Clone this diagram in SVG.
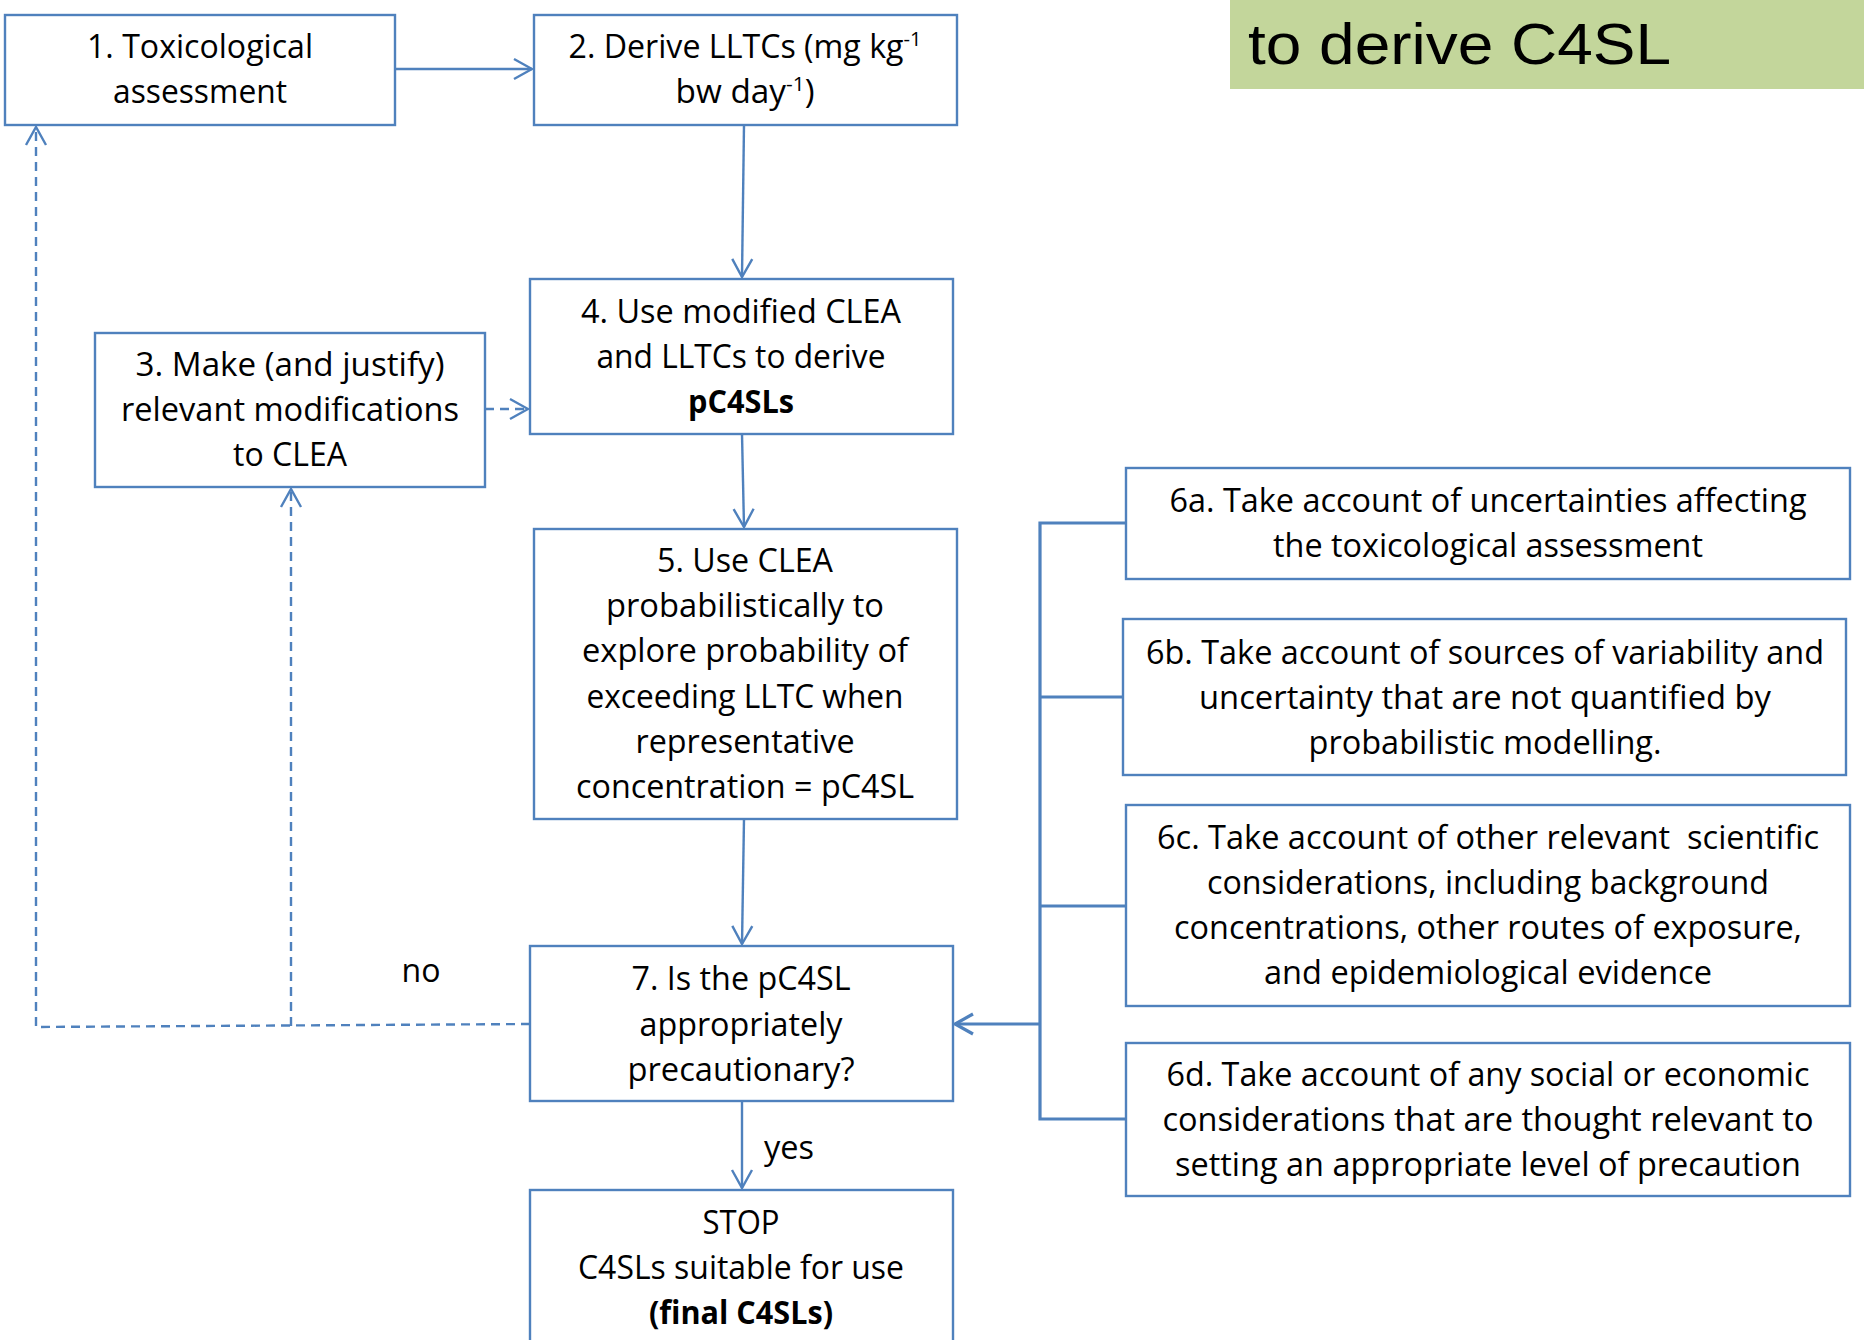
<svg xmlns="http://www.w3.org/2000/svg" width="1864" height="1340" viewBox="0 0 1864 1340">
<style>
.box{fill:#fff;stroke:#4F81BD;stroke-width:2.4}
.t{font-family:"Open Sans","Liberation Sans",sans-serif;font-size:32px;fill:#000;text-anchor:middle}
.b{font-weight:bold}
.c{fill:none;stroke:#4F81BD;stroke-width:2.4}
.d{fill:none;stroke:#4F81BD;stroke-width:2.4;stroke-dasharray:9,6}
.k{fill:none;stroke:#4F81BD;stroke-width:3.2}
.title{font-family:"Liberation Sans",Arial,sans-serif;font-size:58px;fill:#000}
</style>
<defs>
<marker id="ah" markerUnits="userSpaceOnUse" viewBox="0 0 20 24" markerWidth="20" markerHeight="24" refX="19" refY="12" orient="auto">
<path d="M1,2 L19,12 L1,22" fill="none" stroke="#4F81BD" stroke-width="2.4"/>
</marker>
<marker id="ahk" markerUnits="userSpaceOnUse" viewBox="0 0 20 24" markerWidth="20" markerHeight="24" refX="19" refY="12" orient="auto">
<path d="M1,2 L19,12 L1,22" fill="none" stroke="#4F81BD" stroke-width="3.2"/>
</marker>
</defs>
<rect width="1864" height="1340" fill="#fff"/>
<g id="title">
<rect x="1230" y="0" width="634" height="89" fill="#C3D69B"/>
<text class="title" x="1248" y="64" textLength="423" lengthAdjust="spacingAndGlyphs">to derive C4SL</text>
</g>
<g id="connectors">
<path class="c" d="M395,69 L532,69" marker-end="url(#ah)"/>
<path class="c" d="M744,125 L742,277" marker-end="url(#ah)"/>
<path class="c" d="M742,434 L744,527" marker-end="url(#ah)"/>
<path class="c" d="M744,819 L742,944" marker-end="url(#ah)"/>
<path class="c" d="M742,1101 L742,1188" marker-end="url(#ah)"/>
<path class="d" d="M485,409 L528,409" marker-end="url(#ah)"/>
<path class="d" d="M530,1024 L36,1027 L36,127" marker-end="url(#ah)"/>
<path class="d" d="M291,1026 L291,489" marker-end="url(#ah)"/>
<path class="k" d="M1126,523 L1040,523 L1040,1119 L1126,1119 M1040,697 L1123,697 M1040,906 L1126,906"/>
<path class="k" d="M1040,1024 L955,1024" marker-end="url(#ahk)"/>
<text class="t" x="421" y="982" textLength="39" lengthAdjust="spacingAndGlyphs">no</text>
<text class="t" x="789" y="1159" textLength="50" lengthAdjust="spacingAndGlyphs">yes</text>
</g>
<g id="n1">
<rect class="box" x="5" y="15" width="390" height="110"/>
<text class="t" x="200" y="58" textLength="226" lengthAdjust="spacingAndGlyphs">1. Toxicological</text>
<text class="t" x="200" y="103" textLength="174" lengthAdjust="spacingAndGlyphs">assessment</text>
</g>
<g id="n2">
<rect class="box" x="534" y="15" width="423" height="110"/>
<text class="t" x="745" y="58" textLength="353" lengthAdjust="spacingAndGlyphs">2. Derive LLTCs (mg kg<tspan font-size="20" dy="-12">-1</tspan></text>
<text class="t" x="745" y="103" textLength="139" lengthAdjust="spacingAndGlyphs">bw day<tspan font-size="20" dy="-12">-1</tspan><tspan dy="12">)</tspan></text>
</g>
<g id="n3">
<rect class="box" x="95" y="333" width="390" height="154"/>
<text class="t" x="290" y="376" textLength="309" lengthAdjust="spacingAndGlyphs">3. Make (and justify)</text>
<text class="t" x="290" y="421" textLength="338" lengthAdjust="spacingAndGlyphs">relevant modifications</text>
<text class="t" x="290" y="466" textLength="114" lengthAdjust="spacingAndGlyphs">to CLEA</text>
</g>
<g id="n4">
<rect class="box" x="530" y="279" width="423" height="155"/>
<text class="t" x="741" y="323" textLength="320" lengthAdjust="spacingAndGlyphs">4. Use modified CLEA</text>
<text class="t" x="741" y="368" textLength="289" lengthAdjust="spacingAndGlyphs">and LLTCs to derive</text>
<text class="t b" x="741" y="413" textLength="106" lengthAdjust="spacingAndGlyphs">pC4SLs</text>
</g>
<g id="n5">
<rect class="box" x="534" y="529" width="423" height="290"/>
<text class="t" x="745" y="572" textLength="176" lengthAdjust="spacingAndGlyphs">5. Use CLEA</text>
<text class="t" x="745" y="617" textLength="278" lengthAdjust="spacingAndGlyphs">probabilistically to</text>
<text class="t" x="745" y="662" textLength="326" lengthAdjust="spacingAndGlyphs">explore probability of</text>
<text class="t" x="745" y="708" textLength="317" lengthAdjust="spacingAndGlyphs">exceeding LLTC when</text>
<text class="t" x="745" y="753" textLength="219" lengthAdjust="spacingAndGlyphs">representative</text>
<text class="t" x="745" y="798" textLength="338" lengthAdjust="spacingAndGlyphs">concentration = pC4SL</text>
</g>
<g id="n7">
<rect class="box" x="530" y="946" width="423" height="155"/>
<text class="t" x="741" y="990" textLength="219" lengthAdjust="spacingAndGlyphs">7. Is the pC4SL</text>
<text class="t" x="741" y="1036" textLength="203" lengthAdjust="spacingAndGlyphs">appropriately</text>
<text class="t" x="741" y="1081" textLength="227" lengthAdjust="spacingAndGlyphs">precautionary?</text>
</g>
<g id="stop">
<rect class="box" x="530" y="1190" width="423" height="160"/>
<text class="t" x="741" y="1234" textLength="77" lengthAdjust="spacingAndGlyphs">STOP</text>
<text class="t" x="741" y="1279" textLength="326" lengthAdjust="spacingAndGlyphs">C4SLs suitable for use</text>
<text class="t b" x="741" y="1324" textLength="184" lengthAdjust="spacingAndGlyphs">(final C4SLs)</text>
</g>
<g id="n6a">
<rect class="box" x="1126" y="468" width="724" height="111"/>
<text class="t" x="1488" y="512" textLength="637" lengthAdjust="spacingAndGlyphs">6a. Take account of uncertainties affecting</text>
<text class="t" x="1488" y="557" textLength="430" lengthAdjust="spacingAndGlyphs">the toxicological assessment</text>
</g>
<g id="n6b">
<rect class="box" x="1123" y="619" width="723" height="156"/>
<text class="t" x="1485" y="664" textLength="678" lengthAdjust="spacingAndGlyphs">6b. Take account of sources of variability and</text>
<text class="t" x="1485" y="709" textLength="572" lengthAdjust="spacingAndGlyphs">uncertainty that are not quantified by</text>
<text class="t" x="1485" y="754" textLength="353" lengthAdjust="spacingAndGlyphs">probabilistic modelling.</text>
</g>
<g id="n6c">
<rect class="box" x="1126" y="805" width="724" height="201"/>
<text class="t" x="1488" y="849" textLength="662" lengthAdjust="spacingAndGlyphs" style="white-space:pre">6c. Take account of other relevant  scientific</text>
<text class="t" x="1488" y="894" textLength="562" lengthAdjust="spacingAndGlyphs">considerations, including background</text>
<text class="t" x="1488" y="939" textLength="628" lengthAdjust="spacingAndGlyphs">concentrations, other routes of exposure,</text>
<text class="t" x="1488" y="984" textLength="448" lengthAdjust="spacingAndGlyphs">and epidemiological evidence</text>
</g>
<g id="n6d">
<rect class="box" x="1126" y="1043" width="724" height="153"/>
<text class="t" x="1488" y="1086" textLength="643" lengthAdjust="spacingAndGlyphs">6d. Take account of any social or economic</text>
<text class="t" x="1488" y="1131" textLength="651" lengthAdjust="spacingAndGlyphs">considerations that are thought relevant to</text>
<text class="t" x="1488" y="1176" textLength="626" lengthAdjust="spacingAndGlyphs">setting an appropriate level of precaution</text>
</g>
</svg>
